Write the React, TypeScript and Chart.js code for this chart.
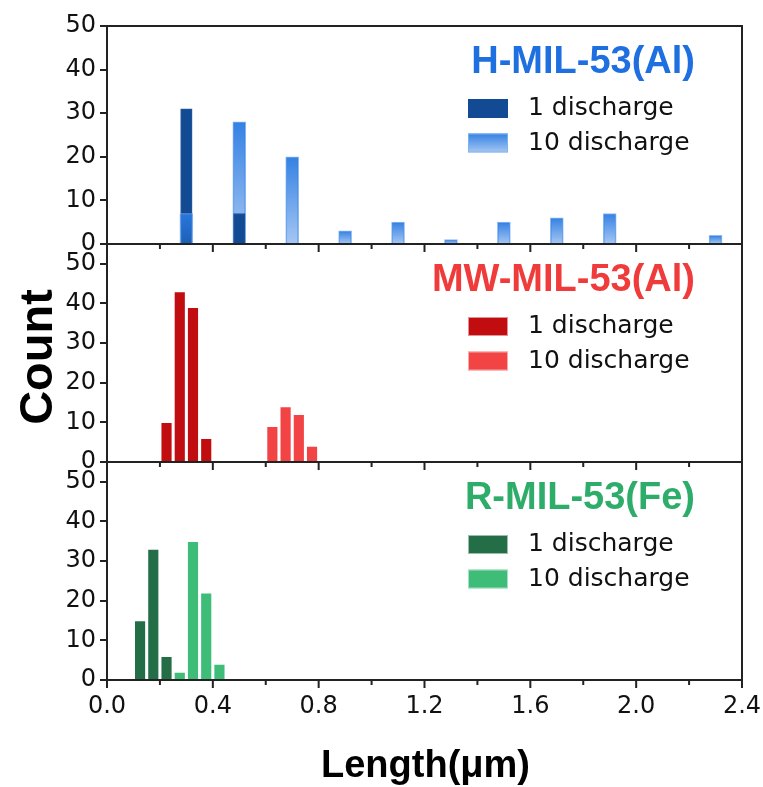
import React, { useEffect, useRef } from 'react';
import { Chart, registerables } from 'chart.js';

Chart.register(...registerables);

// ---- tick labels ----
const X_MAJOR = [0, 0.4, 0.8, 1.2, 1.6, 2.0, 2.4];
const X_MINOR = [0.2, 0.6, 1.0, 1.4, 1.8, 2.2];
const Y_TICKS = [0, 10, 20, 30, 40, 50];
const Y_MAX = [50, 55, 55];

// ---- text ----
const PANEL_TITLES = ['H-MIL-53(Al)', 'MW-MIL-53(Al)', 'R-MIL-53(Fe)'];
const LEGEND_LABELS = ['1 discharge', '10 discharge'];
const Y_TITLE = 'Count';
const X_TITLE = 'Length(μm)';

// ---- data: H-MIL-53(Al) ----
const H_1_X = [0.3, 0.5];
const H_1_Y = [31, 7];
const H_10_X = [0.3, 0.5, 0.7, 0.9, 1.1, 1.3, 1.5, 1.7, 1.9, 2.3];
const H_10_Y = [7, 28, 20, 3, 5, 1, 5, 6, 7, 2];

// ---- data: MW-MIL-53(Al) ----
const MW_1_X = [0.225, 0.275, 0.325, 0.375];
const MW_1_Y = [10, 43, 39, 6];
const MW_10_X = [0.625, 0.675, 0.725, 0.775];
const MW_10_Y = [9, 14, 12, 4];

// ---- data: R-MIL-53(Fe) ----
const R_1_X = [0.125, 0.175, 0.225];
const R_1_Y = [15, 33, 6];
const R_10_X = [0.275, 0.325, 0.375, 0.425];
const R_10_Y = [2, 35, 22, 4];

const AXIS_IDS = ['yTop', 'yMid', 'yBot'];
const TITLE_COLORS = ['#1e6fe0', '#f03b3b', '#2eac6a'];

const BLUE_DARK = '#134a94';
const BLUE_LIGHT_RGB = '42,122,226';
const RED_DARK = '#c10d10';
const RED_LIGHT = '#f24345';
const GREEN_DARK = '#236e47';
const GREEN_LIGHT = '#3dbd78';

const TICK_FONT = { family: '"DejaVu Sans", sans-serif', size: 24 };

function blueGradientFill(c: any) {
  const fallback = `rgba(${BLUE_LIGHT_RGB},0.75)`;
  if (!c || c.type !== 'data' || !c.parsed) return fallback;
  const chart = c.chart;
  const yScale = chart.scales[c.dataset.yAxisID];
  if (!yScale) return fallback;
  const top = yScale.getPixelForValue(c.parsed.y);
  const base = yScale.getPixelForValue(0);
  if (!isFinite(top) || !isFinite(base) || top === base) return fallback;
  const g = chart.ctx.createLinearGradient(0, top, 0, base);
  g.addColorStop(0, `rgba(${BLUE_LIGHT_RGB},0.95)`);
  g.addColorStop(1, `rgba(${BLUE_LIGHT_RGB},0.42)`);
  return g;
}

type Series = { xs: number[]; ys: number[]; fill: any; border: string; thickness: number };

const PANEL_SERIES: Series[][] = [
  [
    { xs: H_1_X, ys: H_1_Y, fill: BLUE_DARK, border: 'rgba(19,74,148,0.9)', thickness: 11.5 },
    { xs: H_10_X, ys: H_10_Y, fill: blueGradientFill, border: 'rgba(130,180,240,0.9)', thickness: 13 },
  ],
  [
    { xs: MW_1_X, ys: MW_1_Y, fill: RED_DARK, border: 'rgba(255,255,255,0.55)', thickness: 11.5 },
    { xs: MW_10_X, ys: MW_10_Y, fill: RED_LIGHT, border: 'rgba(255,255,255,0.55)', thickness: 11.5 },
  ],
  [
    { xs: R_1_X, ys: R_1_Y, fill: GREEN_DARK, border: 'rgba(255,255,255,0.55)', thickness: 11.5 },
    { xs: R_10_X, ys: R_10_Y, fill: GREEN_LIGHT, border: 'rgba(255,255,255,0.55)', thickness: 11.5 },
  ],
];

function buildDatasets() {
  const out: any[] = [];
  PANEL_SERIES.forEach((series, pi) => {
    series.forEach((s, si) => {
      const other = series[1 - si];
      const front: any[] = [];
      const back: any[] = [];
      s.xs.forEach((x, i) => {
        const j = other.xs.indexOf(x);
        const p = { x, y: s.ys[i] };
        if (j >= 0 && s.ys[i] < other.ys[j]) front.push(p);
        else back.push(p);
      });
      [
        { data: back, order: 2 },
        { data: front, order: 1 },
      ].forEach((part) => {
        out.push({
          label: LEGEND_LABELS[si],
          data: part.data,
          order: part.order,
          yAxisID: AXIS_IDS[pi],
          xAxisID: 'x',
          backgroundColor: s.fill,
          borderColor: s.border,
          borderWidth: 1,
          borderSkipped: 'bottom',
          barThickness: s.thickness,
          grouped: false,
        });
      });
    });
  });
  return out;
}

function yAxis(i: number) {
  return {
    type: 'linear',
    position: 'left',
    stack: 'panels',
    stackWeight: 1,
    min: 0,
    max: Y_MAX[i],
    afterBuildTicks: (s: any) => {
      s.ticks = Y_TICKS.map((v) => ({ value: v }));
    },
    afterFit: (s: any) => {
      s.width = 107;
    },
    grid: {
      display: true,
      drawOnChartArea: false,
      drawTicks: true,
      tickLength: 7,
      tickColor: '#222',
      tickWidth: 2,
      lineWidth: 2,
      color: '#222',
    },
    border: { display: false },
    ticks: { font: TICK_FONT, color: '#111', padding: 4, autoSkip: false },
  };
}

const decorPlugin = {
  id: 'decor',
  afterDatasetsDraw(chart: any) {
    const ctx = chart.ctx;
    const { left, right, top, bottom } = chart.chartArea;
    const xs = chart.scales.x;
    ctx.save();
    AXIS_IDS.forEach((id, pi) => {
      const s = chart.scales[id];
      // frame
      ctx.strokeStyle = '#222';
      ctx.lineWidth = 2;
      ctx.strokeRect(left, s.top, right - left, s.bottom - s.top);
      // x ticks (outward)
      ctx.beginPath();
      X_MAJOR.forEach((v) => {
        const px = xs.getPixelForValue(v);
        ctx.moveTo(px, s.bottom);
        ctx.lineTo(px, s.bottom + 8);
      });
      X_MINOR.forEach((v) => {
        const px = xs.getPixelForValue(v);
        ctx.moveTo(px, s.bottom);
        ctx.lineTo(px, s.bottom + 5);
      });
      ctx.stroke();

      // panel title
      ctx.fillStyle = TITLE_COLORS[pi];
      ctx.font = 'bold 38px "Liberation Sans", Arial, sans-serif';
      ctx.textAlign = 'right';
      ctx.textBaseline = 'alphabetic';
      ctx.fillText(PANEL_TITLES[pi], right - 47, s.top + 47);

      // legend
      const series = PANEL_SERIES[pi];
      const rowY = [s.top + 82.5, s.top + 117];
      series.forEach((ser, si) => {
        const sx = right - 274;
        const sy = rowY[si] - 9.5;
        if (typeof ser.fill === 'function') {
          const g = ctx.createLinearGradient(0, sy, 0, sy + 19);
          g.addColorStop(0, `rgba(${BLUE_LIGHT_RGB},0.95)`);
          g.addColorStop(1, `rgba(${BLUE_LIGHT_RGB},0.42)`);
          ctx.fillStyle = g;
        } else {
          ctx.fillStyle = ser.fill;
        }
        ctx.fillRect(sx, sy, 40, 19);
        ctx.strokeStyle = ser.border;
        ctx.lineWidth = 1;
        ctx.strokeRect(sx + 0.5, sy + 0.5, 39, 18);
        ctx.fillStyle = '#111';
        ctx.font = '25px "DejaVu Sans", sans-serif';
        ctx.textAlign = 'left';
        ctx.textBaseline = 'middle';
        ctx.fillText(LEGEND_LABELS[si], right - 214, rowY[si]);
      });
    });

    // axis titles
    ctx.fillStyle = '#000';
    ctx.font = 'bold 47px "Liberation Sans", Arial, sans-serif';
    ctx.textAlign = 'center';
    ctx.textBaseline = 'alphabetic';
    ctx.save();
    ctx.translate(52, (top + bottom) / 2 + 4);
    ctx.rotate(-Math.PI / 2);
    ctx.fillText(Y_TITLE, 0, 0);
    ctx.restore();

    ctx.font = 'bold 38px "Liberation Sans", Arial, sans-serif';
    ctx.fillText(X_TITLE, (left + right) / 2 + 1, 777);
    ctx.restore();
  },
};

export default function App() {
  const ref = useRef<HTMLCanvasElement | null>(null);
  useEffect(() => {
    if (!ref.current) return;
    const chart = new Chart(ref.current, {
      type: 'bar',
      data: { datasets: buildDatasets() },
      options: {
        responsive: false,
        animation: false,
        devicePixelRatio: 1,
        layout: { padding: { top: 26, right: 21, left: 0, bottom: 0 } },
        plugins: {
          legend: { display: false },
          tooltip: { enabled: false },
          title: { display: false },
        },
        scales: {
          x: {
            type: 'linear',
            min: 0,
            max: 2.4,
            offset: false,
            afterBuildTicks: (s: any) => {
              s.ticks = X_MAJOR.map((v) => ({ value: v }));
            },
            afterFit: (s: any) => {
              s.height = 107;
              s.paddingLeft = 0;
              s.paddingRight = 0;
            },
            grid: { display: false, drawTicks: false },
            border: { display: false },
            ticks: {
              font: TICK_FONT,
              color: '#111',
              padding: 12,
              maxRotation: 0,
              autoSkip: false,
              callback: (v: any) => Number(v).toFixed(1),
            },
          },
          yBot: yAxis(2),
          yMid: yAxis(1),
          yTop: yAxis(0),
        } as any,
      },
      plugins: [decorPlugin],
    } as any);
    return () => chart.destroy();
  }, []);
  return (
    <div style={{ position: 'fixed', left: 0, top: 0, width: 763, height: 787, background: '#fff' }}>
      <canvas ref={ref} width={763} height={787} style={{ display: 'block' }} />
    </div>
  );
}
